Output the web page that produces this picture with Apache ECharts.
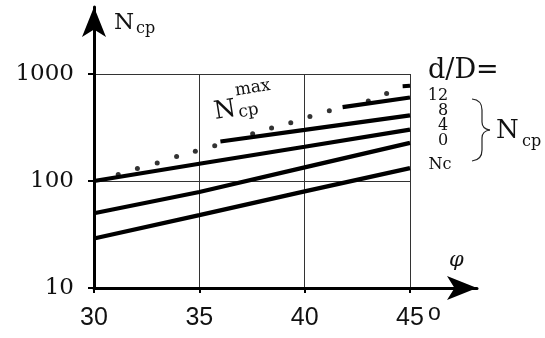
<!DOCTYPE html>
<html>
<head>
<meta charset="utf-8">
<script src="https://cdn.jsdelivr.net/npm/echarts@6/dist/echarts.min.js"></script>
<style>
  html, body { margin: 0; padding: 0; background: #fff; }
  #chart { width: 545px; height: 338px; }
</style>
</head>
<body>
<div id="chart"></div>
<script>
// Friction angle φ (degrees) at which each curve is read
const phiTicks = [30, 35, 40, 45];
const yTicks = [10, 100, 1000];

// Bearing factor curves, N_cp for d/D = 0, 4, 8, 12 and N_c
const phiFull = [30, 35, 40, 45];
const ncValues = [29, 48, 80, 132];
const dD0Values = [50, 79, 134, 227];
const dD4Values = [100, 145, 209, 302];
const dD8Phi = [36, 40, 45];
const dD8Values = [234, 300, 411];
const dD12Phi = [41.8, 45];
const dD12Values = [490, 603];

// Upper limit N_cp^max (dotted)
const nmaxPhi = [31.15, 32.06, 33.0, 33.92, 34.81, 35.73, 37.53, 38.43, 39.34, 40.25, 41.17, 43.02, 43.89];
const nmaxValues = [115, 131, 147, 169, 190, 214, 277, 313, 351, 400, 454, 558, 656];
const nmaxEndPhi = [44.65, 45];
const nmaxEndValues = [768, 776];

const zip = (xs, ys) => xs.map((x, i) => [x, ys[i]]);

const serif = 'DejaVu Serif';
const sans = 'Liberation Sans';

const curve = (name, data) => ({
  name, type: 'line', data, xAxisIndex: 0, yAxisIndex: 0,
  symbol: 'none', smooth: false,
  lineStyle: { color: '#000', width: 4.2 }, z: 5
});

const txt = (text, x, y, font, extra) => ({
  type: 'text', x, y,
  style: Object.assign({ text, font, fill: '#111' }, extra || {})
});

const braceStyle = { stroke: '#222', lineWidth: 1.2, fill: null };

const chart = echarts.init(document.getElementById('chart'), null, { renderer: 'canvas' });

chart.setOption({
  animation: false,
  backgroundColor: '#fff',
  grid: [
    { left: 94, right: 135, top: 74, bottom: 50 },
    { left: 94, right: 68, top: 7, bottom: 50 }
  ],
  xAxis: [
    {
      gridIndex: 0, type: 'value', min: 30, max: 45, interval: 5,
      axisLine: { show: false },
      axisTick: { show: true, length: 5, lineStyle: { color: '#000', width: 2 } },
      axisLabel: {
        margin: 18, color: '#111', fontFamily: sans, fontSize: 25,
        formatter: v => phiTicks.includes(v) ? String(v) : ''
      },
      splitLine: { show: true, lineStyle: { color: '#333', width: 1 } }
    },
    {
      gridIndex: 1, type: 'value', min: 0, max: 1,
      axisLine: {
        show: true, symbol: ['none', 'arrow'], symbolSize: [18, 30],
        lineStyle: { color: '#000', width: 3 }
      },
      axisTick: { show: false }, axisLabel: { show: false }, splitLine: { show: false }
    }
  ],
  yAxis: [
    {
      gridIndex: 0, type: 'log', logBase: 10, min: 10, max: 1000,
      axisLine: { show: false },
      axisTick: { show: true, length: 6, lineStyle: { color: '#000', width: 2 } },
      axisLabel: {
        margin: 20, color: '#111', fontFamily: serif, fontSize: 23,
        formatter: v => yTicks.includes(Math.round(v)) ? String(Math.round(v)) : ''
      },
      splitLine: { show: true, lineStyle: { color: '#333', width: 1 } }
    },
    {
      gridIndex: 1, type: 'value', min: 0, max: 1,
      axisLine: {
        show: true, symbol: ['none', 'arrow'], symbolSize: [18, 30],
        lineStyle: { color: '#000', width: 3 }
      },
      axisTick: { show: false }, axisLabel: { show: false }, splitLine: { show: false }
    }
  ],
  series: [
    curve('Nc', zip(phiFull, ncValues)),
    curve('d/D=0', zip(phiFull, dD0Values)),
    curve('d/D=4', zip(phiFull, dD4Values)),
    curve('d/D=8', zip(dD8Phi, dD8Values)),
    curve('d/D=12', zip(dD12Phi, dD12Values)),
    {
      name: 'Ncp max', type: 'scatter', data: zip(nmaxPhi, nmaxValues),
      xAxisIndex: 0, yAxisIndex: 0,
      symbol: 'circle', symbolSize: 5,
      itemStyle: { color: '#000' }, z: 6
    },
    {
      name: 'Ncp max end', type: 'line', data: zip(nmaxEndPhi, nmaxEndValues),
      xAxisIndex: 0, yAxisIndex: 0, symbol: 'none',
      lineStyle: { color: '#000', width: 4 }, z: 6
    }
  ],
  graphic: [
    // y-axis title N_cp
    txt('N', 114, 12, `23px "${serif}"`),
    txt('cp', 136, 21, `16px "${serif}"`),
    // x-axis title φ
    txt('φ', 449, 250, `italic 21px "${serif}"`),
    // degree mark after 45
    txt('o', 428, 302, `23px "${sans}"`),
    // N_cp^max label, slightly tilted
    {
      type: 'group', x: 216, y: 124, rotation: 0.16,
      children: [
        txt('N', 0, -24, `25px "${serif}"`),
        txt('cp', 24, -16, `17px "${serif}"`),
        txt('max', 24, -38, `17px "${serif}"`)
      ]
    },
    // d/D legend column
    txt('d/D=', 428, 57, `27px "${serif}"`),
    txt('12', 438, 96, `16px "${serif}"`, { align: 'center', verticalAlign: 'middle' }),
    txt('8', 443, 111, `16px "${serif}"`, { align: 'center', verticalAlign: 'middle' }),
    txt('4', 443, 126, `16px "${serif}"`, { align: 'center', verticalAlign: 'middle' }),
    txt('0', 443, 141, `16px "${serif}"`, { align: 'center', verticalAlign: 'middle' }),
    txt('Nc', 440, 165, `16px "${serif}"`, { align: 'center', verticalAlign: 'middle' }),
    // brace grouping the N_cp curves
    { type: 'bezierCurve', shape: { x1: 472, y1: 99, cpx1: 482, cpy1: 100, x2: 482, y2: 110 }, style: braceStyle },
    { type: 'line', shape: { x1: 482, y1: 110, x2: 482, y2: 122 }, style: braceStyle },
    { type: 'bezierCurve', shape: { x1: 482, y1: 122, cpx1: 482, cpy1: 129, x2: 490, y2: 130 }, style: braceStyle },
    { type: 'bezierCurve', shape: { x1: 490, y1: 130, cpx1: 482, cpy1: 131, x2: 482, y2: 138 }, style: braceStyle },
    { type: 'line', shape: { x1: 482, y1: 138, x2: 482, y2: 150 }, style: braceStyle },
    { type: 'bezierCurve', shape: { x1: 482, y1: 150, cpx1: 482, cpy1: 160, x2: 472, y2: 161 }, style: braceStyle },
    txt('N', 496, 118, `26px "${serif}"`),
    txt('cp', 522, 134, `16px "${serif}"`)
  ]
});
</script>
</body>
</html>
